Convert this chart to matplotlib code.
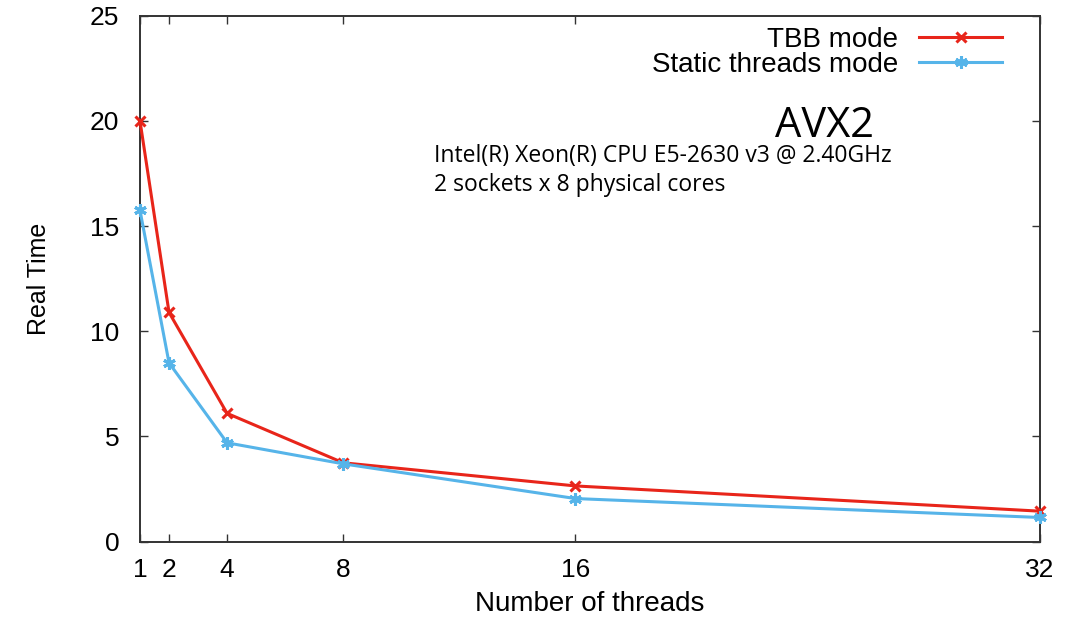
import matplotlib
matplotlib.use('Agg')
from matplotlib import pyplot as plt

threads = [1, 2, 4, 8, 16, 32]
tbb_time = [20.0, 10.9, 6.1, 3.75, 2.65, 1.45]
static_time = [15.75, 8.5, 4.7, 3.7, 2.05, 1.15]
y_ticks = [0, 5, 10, 15, 20, 25]

plt.rcParams['font.family'] = ['Liberation Sans', 'DejaVu Sans']

fig = plt.figure(figsize=(10.81, 6.18), dpi=100)
ax = fig.add_axes([0.1295, 0.1235, 0.8325, 0.851])

ax.plot(threads, tbb_time, color='#e8251a', lw=2.2, marker='x', ms=7, mew=2.2,
        label='TBB mode', clip_on=False, zorder=3)
ax.plot(threads, static_time, color='#56b4e9', lw=2.2, marker=(6, 2, 0), ms=9, mew=2.2,
        label='Static threads mode', clip_on=False, zorder=3)

ax.set_xlim(1, 32)
ax.set_ylim(0, 25)
ax.set_xticks(threads)
ax.set_yticks(y_ticks)
ax.tick_params(direction='in', length=6, width=1.0, labelsize=19, top=True, right=True,
               color='#333333')
ax.tick_params(axis='x', pad=12)
ax.tick_params(axis='y', pad=15)
for s in ax.spines.values():
    s.set_linewidth(1.4)
    s.set_color('#333333')

ax.set_xlabel('Number of threads', fontsize=20, labelpad=6.5)
ax.set_ylabel('Real Time', fontsize=18, labelpad=28)

leg = ax.legend(loc='upper right', frameon=False, markerfirst=False, fontsize=20,
                handlelength=3.0, handletextpad=0.75, labelspacing=-0.03,
                borderaxespad=0, bbox_to_anchor=(0.9707, 1.0))

# processor info
info_font = ['Open Sans', 'DejaVu Sans']
ax.text(0.7056, 0.769, 'AVX2', transform=ax.transAxes, fontsize=30,
        family=info_font, ha='left', va='baseline')
ax.text(0.3267, 0.722, 'Intel(R) Xeon(R) CPU E5-2630 v3 @ 2.40GHz',
        transform=ax.transAxes, fontsize=16.5, family=info_font, ha='left', va='baseline')
ax.text(0.3267, 0.667, '2 sockets x 8 physical cores',
        transform=ax.transAxes, fontsize=16.5, family=info_font, ha='left', va='baseline')

fig.savefig('out.png', dpi=100)
